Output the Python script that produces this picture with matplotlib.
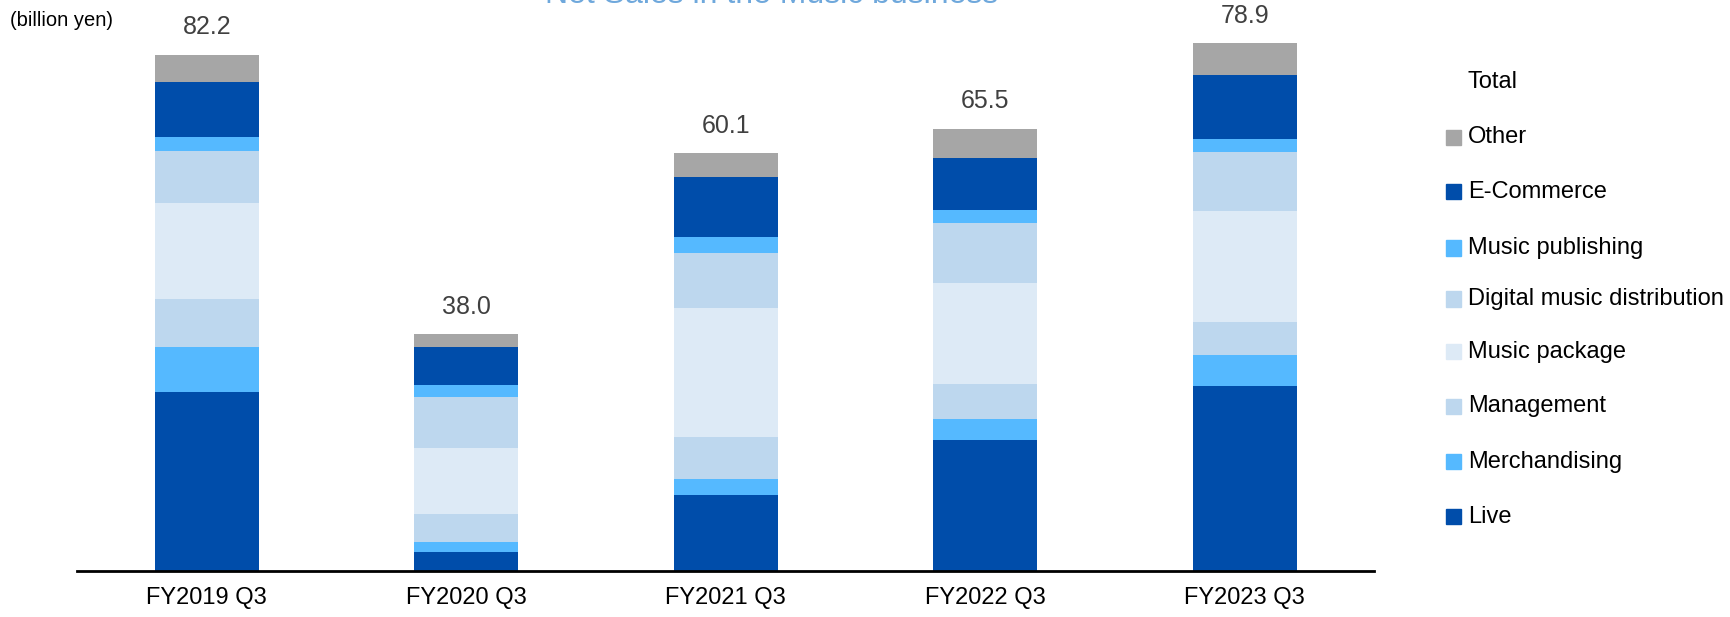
import matplotlib
matplotlib.use('Agg')
import matplotlib.pyplot as plt
from matplotlib.patches import Rectangle
import numpy as np

plt.rcParams['font.family'] = ['Liberation Sans', 'DejaVu Sans']

# data (billion yen), segment heights
# (the reference bars are not drawn exactly to their printed totals)
periods = ['FY2019 Q3', 'FY2020 Q3', 'FY2021 Q3', 'FY2022 Q3', 'FY2023 Q3']
totals = [82.2, 38.0, 60.1, 65.5, 78.9]
live = [28.5, 3.0, 12.05, 20.9, 29.5]
merchandising = [7.2, 1.5, 2.6, 3.25, 4.95]
management = [7.6, 4.55, 6.6, 5.65, 5.25]
music_package = [15.4, 10.5, 20.7, 16.05, 17.6]
digital_music = [8.25, 8.1, 8.7, 9.6, 9.4]
music_publishing = [2.15, 2.0, 2.55, 2.1, 2.05]
e_commerce = [8.85, 5.95, 9.55, 8.3, 10.25]
other = [4.25, 2.1, 3.8, 4.55, 5.05]

segments = [
    ('Live', live, '#004DAA'),
    ('Merchandising', merchandising, '#55B9FF'),
    ('Management', management, '#BDD7EE'),
    ('Music package', music_package, '#DDEAF6'),
    ('Digital music distribution', digital_music, '#BDD7EE'),
    ('Music publishing', music_publishing, '#55B9FF'),
    ('E-Commerce', e_commerce, '#004DAA'),
    ('Other', other, '#A6A6A6'),
]

fig = plt.figure(figsize=(17.31, 6.17), dpi=100)
ax = fig.add_axes([0.0445, 0.075, 0.7495, 0.915])

x = np.arange(len(periods))
bottom = np.zeros(len(periods))
for name, vals, col in segments:
    ax.bar(x, vals, width=0.4, bottom=bottom, color=col, edgecolor='none')
    bottom += np.array(vals)

# totals printed above each stack
for xi, top, t in zip(x, bottom, totals):
    ax.text(xi, top + 2.5, f'{t:.1f}', ha='center', va='bottom', fontsize=18, color='#404040')

ax.set_xlim(-0.5, 4.5)
ax.set_ylim(0, 90)
ax.set_yticks([])
ax.set_xticks(x)
ax.set_xticklabels(periods, fontsize=17)
ax.tick_params(axis='x', length=0, pad=12)
for s in ['top', 'right', 'left']:
    ax.spines[s].set_visible(False)
ax.spines['bottom'].set_linewidth(2)

fig.text(0.006, 0.967, '(billion yen)', fontsize=14.5, ha='left', va='center')

# heading, cut off at the top edge as in the reference
fig.text(0.446, 1 - 3 / 617, 'Net Sales in the Music business', fontsize=23,
         color='#6FA8DC', ha='center', va='baseline')

# legend, top to bottom
W, H = 1731, 617
fig.text(1467.7 / W, 1 - 81.7 / H, 'Total', fontsize=17, ha='left', va='center')
legend_y = [137.3, 191.7, 248.0, 299.0, 351.7, 406.0, 461.7, 516.7]
for (name, vals, col), yy in zip(reversed(segments), legend_y):
    fig.patches.append(Rectangle((1446 / W, 1 - (yy + 7.5) / H), 15 / W, 15 / H,
                                 transform=fig.transFigure, color=col, figure=fig))
    fig.text(1467.7 / W, 1 - yy / H, name, fontsize=17, ha='left', va='center')

fig.savefig('out.png', dpi=100)
